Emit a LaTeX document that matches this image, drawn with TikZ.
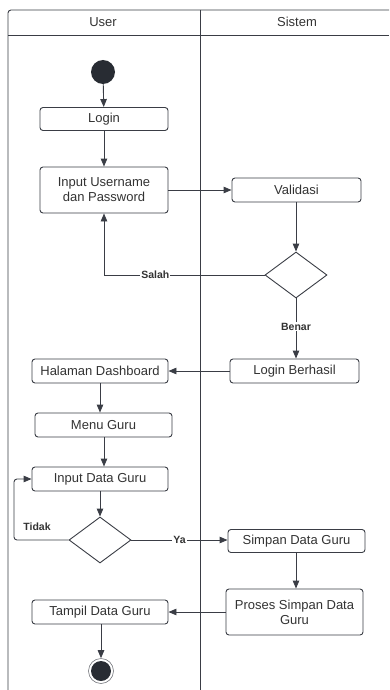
\documentclass[tikz,border=0pt]{standalone}
\usepackage{fontspec}
\setmainfont{Liberation Sans}
\usetikzlibrary{arrows.meta,shapes.geometric}
\definecolor{ln}{HTML}{3A3D45}
\definecolor{dk}{HTML}{282C33}
\definecolor{tx}{HTML}{333333}
\tikzset{
  act/.style={draw=ln, line width=0.9pt, rounded corners=3pt, fill=white, align=center, text=tx, font=\fontsize{13}{15}\selectfont, inner sep=0pt},
  dec/.style={draw=ln, line width=0.9pt, diamond, minimum width=62pt, minimum height=46pt, inner sep=0pt, fill=white},
  flow/.style={draw=ln, line width=0.9pt, -{Triangle[length=8pt,width=6.5pt]}},
  lbl/.style={fill=white, inner sep=1pt, font=\bfseries\fontsize{10.5}{12}\selectfont, text=tx},
  lane/.style={draw=ln, line width=0.9pt},
}
\begin{document}
\begin{tikzpicture}[x=1pt,y=-1pt]
\useasboundingbox (0,0) rectangle (389,690);
% swimlanes
\draw[lane, rounded corners=3pt] (8,690) -- (8,10) -- (389,10);
\draw[lane] (8,35) -- (389,35);
\draw[lane] (200,10) -- (200,690);
\node[text=tx, font=\fontsize{13}{15}\selectfont] (hu) at (103,22) {User};
\node[text=tx, font=\fontsize{13}{15}\selectfont] (hs) at (297,22) {Sistem};
% nodes
\node[circle, fill=dk, minimum size=24pt, inner sep=0pt] (start) at (103,72) {};
\node[act, minimum width=128pt, minimum height=23pt] (login) at (104,119) {Login};
\node[act, minimum width=128pt, minimum height=46pt] (input) at (104,190) {Input Username\\dan Password};
\node[act, minimum width=129pt, minimum height=24pt] (valid) at (296.5,190) {Validasi};
\node[dec] (d1) at (296,275) {};
\node[act, minimum width=129pt, minimum height=24pt] (berhasil) at (294.5,371) {Login Berhasil};
\node[act, minimum width=136pt, minimum height=24pt] (dash) at (100,371) {Halaman Dashboard};
\node[act, minimum width=137pt, minimum height=24pt] (menu) at (103.5,425) {Menu Guru};
\node[act, minimum width=136pt, minimum height=24pt] (inguru) at (100,479) {Input Data Guru};
\node[dec] (d2) at (100,540) {};
\node[act, minimum width=137pt, minimum height=23pt] (simpan) at (296.5,541) {Simpan Data Guru};
\node[act, minimum width=137pt, minimum height=46pt] (proses) at (294.5,612) {Proses Simpan Data\\Guru};
\node[act, minimum width=136pt, minimum height=24pt] (tampil) at (100,612) {Tampil Data Guru};
\node[circle, draw=ln!70, line width=0.6pt, minimum size=25pt, inner sep=0pt] (endo) at (101,671) {};
\node[circle, fill=dk, minimum size=20pt, inner sep=0pt] (endi) at (101,671) {};
% flows
\draw[flow] (start) -- (login);
\draw[flow] (login) -- (input);
\draw[flow] (input.east |- valid.west) -- (valid.west);
\draw[flow] (valid.south -| d1.north) -- (d1.north);
\draw[flow] (d1.west) -- (104,275) node[lbl, pos=0.68] {Salah} -- (input.south);
\draw[flow] (d1.south) -- (berhasil.north -| d1.south) node[lbl, pos=0.47] {Benar};
\draw[flow] (berhasil.west) -- (dash.east);
\draw[flow] (dash) -- (dash.south |- menu.north);
\draw[flow] (menu.south -| 104,0) -- (inguru.north -| 104,0);
\draw[flow] (inguru) -- (d2);
\draw[flow, rounded corners=3pt] (d2.west) -- (14,540) -- (14,479) -- (inguru.west);
\node[lbl, fill=none] (tidak) at (37,527) {Tidak};
\draw[flow] (d2.east) -- (simpan.west |- d2.east) node[lbl, pos=0.5] {Ya};
\draw[flow] (simpan.south -| 296,0) -- (proses.north -| 296,0);
\draw[flow] (proses.west) -- (tampil.east);
\draw[flow] (tampil.south -| 101,0) -- (endo.north);
\end{tikzpicture}
\end{document}
